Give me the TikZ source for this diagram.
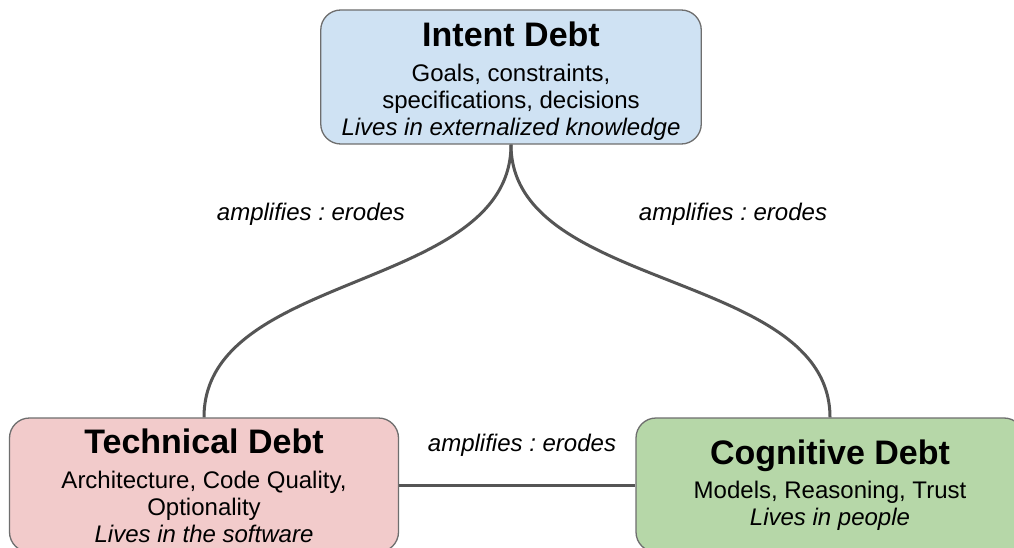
\documentclass[tikz,border=0pt]{standalone}
\usepackage{fontspec}
\setmainfont{Liberation Sans}
\frenchspacing
\definecolor{intentfill}{HTML}{CFE2F3}
\definecolor{techfill}{HTML}{F2CBCB}
\definecolor{cogfill}{HTML}{B6D7A8}
\definecolor{boxline}{HTML}{6E6E6E}
\definecolor{linkgray}{HTML}{555555}
\newcommand\dtitle[1]{{\fontsize{34}{36}\selectfont\bfseries #1}}
\begin{document}
\begin{tikzpicture}[x=1pt,y=-1pt,
  box/.style={draw=boxline, line width=1.3pt, rounded corners=20pt, inner sep=0pt},
  boxtext/.style={align=center, font=\fontsize{24}{27.3}\selectfont, inner sep=0pt},
  link/.style={draw=linkgray, line width=3pt},
  linklabel/.style={font=\fontsize{24}{27}\selectfont\itshape, inner sep=0pt}]
\clip (0,0) rectangle (1014,548);
\useasboundingbox (0,0) rectangle (1014,548);
\fill[white] (0,0) rectangle (1014,548);
% boxes
\node[box, fill=intentfill, minimum width=380.5pt, minimum height=134pt] (intent) at (511,77) {};
\node[box, fill=techfill, minimum width=389pt, minimum height=134pt] (tech) at (204,485) {};
\node[box, fill=cogfill, minimum width=388pt, minimum height=134pt] (cog) at (830,485) {};
% box texts
\node[boxtext] (intentT) at (511,81.5) {\dtitle{Intent Debt}\\[7pt]Goals, constraints,\\specifications, decisions\\\textit{Lives in externalized knowledge}};
\node[boxtext] (techT) at (204,486) {\dtitle{Technical Debt}\\[7pt]Architecture, Code Quality,\\Optionality\\\textit{Lives in the software}};
\node[boxtext] (cogT) at (830,485) {\dtitle{Cognitive Debt}\\[7pt]Models, Reasoning, Trust\\\textit{Lives in people}};
% connectors
\draw[link] (intent.south) .. controls +(0,147) and +(0,-147) .. (tech.north);
\draw[link] (intent.south) .. controls +(0,147) and +(0,-147) .. (cog.north);
\draw[link] (tech.east) -- (cog.west);
% labels
\node[linklabel] (lblL) at (311,214) {amplifies : erodes};
\node[linklabel] (lblR) at (733,214) {amplifies : erodes};
\node[linklabel] (lblB) at (522,445) {amplifies : erodes};
\end{tikzpicture}
\end{document}
